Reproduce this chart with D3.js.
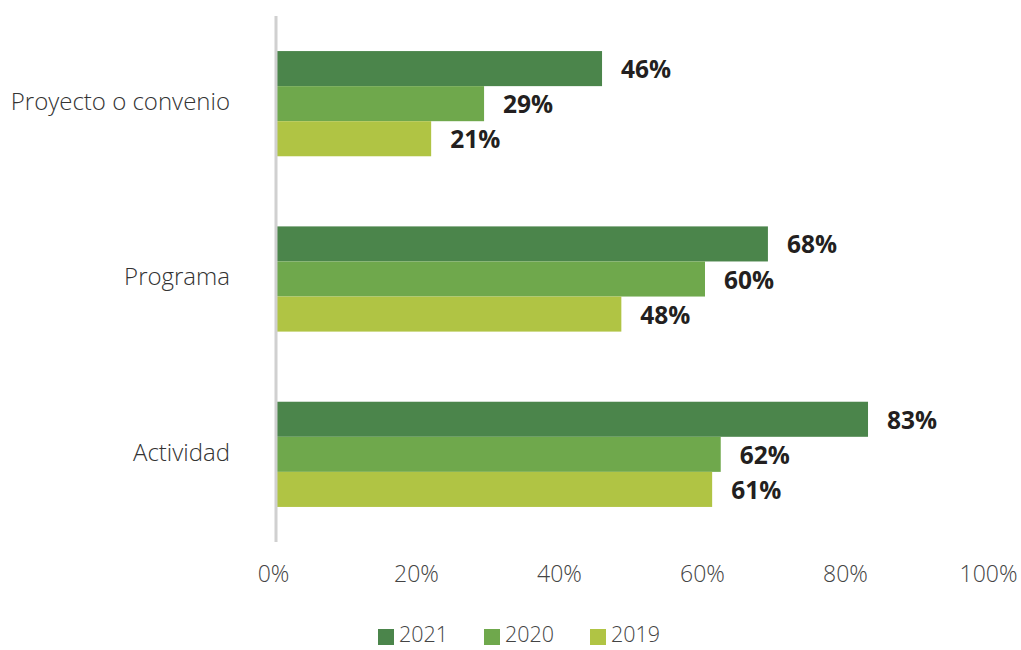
<!DOCTYPE html>
<html><head><meta charset="utf-8">
<script src="https://cdn.jsdelivr.net/npm/d3@7"></script>
<style>
body{margin:0;background:#fff;}
svg{display:block;}
</style></head>
<body><svg id="c" width="1021" height="650"></svg>
<script>
const categories = ["Proyecto o convenio", "Programa", "Actividad"];
const seriesNames = ["2021", "2020", "2019"];
const values2021 = [45.6, 68.8, 82.8];
const values2020 = [29.1, 60.0, 62.2];
const values2019 = [21.7, 48.3, 61.0];
const labels2021 = ["46%", "68%", "83%"];
const labels2020 = ["29%", "60%", "62%"];
const labels2019 = ["21%", "48%", "61%"];
const tickValues = [0, 20, 40, 60, 80, 100];
const tickLabels = ["0%", "20%", "40%", "60%", "80%", "100%"];
const colors = ["#4b854b", "#6fa84c", "#b0c444"];

const seriesVals = [values2021, values2020, values2019];
const seriesLabels = [labels2021, labels2020, labels2019];

const svg = d3.select("#c");
const font = "'Open Sans', sans-serif";

const x = d3.scaleLinear().domain([0, 100]).range([276, 991]);
const y = d3.scaleBand().domain(categories).range([16, 542]).paddingInner(0.4).paddingOuter(0.2);
const yi = d3.scaleBand().domain(seriesNames).range([0, y.bandwidth()]);

const rows = [];
categories.forEach((c, i) => seriesNames.forEach((s, j) => rows.push({c, s, j, v: seriesVals[j][i], l: seriesLabels[j][i]})));

svg.append("g").selectAll("rect").data(rows).join("rect")
  .attr("x", x(0))
  .attr("y", d => y(d.c) + yi(d.s))
  .attr("width", d => x(d.v) - x(0))
  .attr("height", yi.bandwidth())
  .attr("fill", d => colors[d.j]);

svg.append("g").selectAll("text").data(rows).join("text")
  .attr("x", d => x(d.v) + 19)
  .attr("y", d => y(d.c) + yi(d.s) + yi.bandwidth() / 2 + 3)
  .attr("dominant-baseline", "middle")
  .attr("font-family", font).attr("font-weight", 700).attr("font-size", 24.5)
  .attr("fill", "#231f20")
  .text(d => d.l);

// vertical axis line
svg.append("line").attr("x1", x(0)).attr("x2", x(0)).attr("y1", 16).attr("y2", 542)
  .attr("stroke", "#d0d0d0").attr("stroke-width", 3);

// category labels
svg.append("g").selectAll("text").data(categories).join("text")
  .attr("x", 230)
  .attr("y", d => y(d) + y.bandwidth() / 2)
  .attr("text-anchor", "end").attr("dominant-baseline", "middle")
  .attr("font-family", font).attr("font-weight", 300).attr("font-size", 24)
  .attr("fill", "#333")
  .text(d => d);

// x axis
const xAxis = d3.axisBottom(x).tickValues(tickValues).tickFormat((d, i) => tickLabels[i]).tickSize(0).tickPadding(0);
const gx = svg.append("g").attr("transform", "translate(-3,566)").call(xAxis);
gx.select(".domain").remove();
gx.selectAll("text").attr("font-family", font).attr("font-weight", 300).attr("font-size", 23).attr("fill", "#444").attr("dy", "0.71em");

// legend
const legX = d3.scalePoint().domain(seriesNames).range([378, 590]);
const leg = svg.append("g").selectAll("g").data(seriesNames).join("g")
  .attr("transform", d => `translate(${legX(d)},636)`);
leg.append("rect").attr("x", 0).attr("y", -7).attr("width", 16).attr("height", 16).attr("fill", (d, i) => colors[i]);
leg.append("text").attr("x", 21).attr("y", 0).attr("dominant-baseline", "middle")
  .attr("font-family", font).attr("font-weight", 300).attr("font-size", 21.5).attr("fill", "#444").text(d => d);
</script></body></html>
